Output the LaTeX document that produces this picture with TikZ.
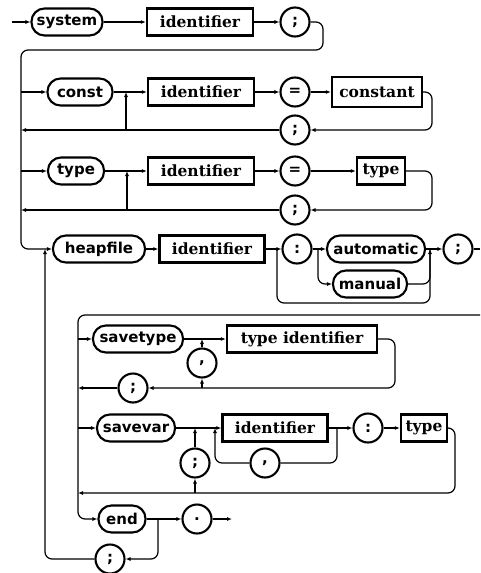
\documentclass[tikz,border=0pt]{standalone}
\usepackage{fontspec}
\usetikzlibrary{arrows.meta}
\newfontfamily\kwsans{DejaVu Sans}
\newfontfamily\boxserif{DejaVu Serif}
\newcommand\kwfmt{\kwsans\bfseries\fontsize{15pt}{15pt}\selectfont}
\newcommand\boxfmt{\boxserif\bfseries\fontsize{15.5pt}{15.5pt}\selectfont}
\tikzset{
  kw/.style={draw, line width=2.1pt, rounded corners=13pt, minimum height=27pt, inner sep=0pt, font=\kwfmt},
  refbox/.style={draw, line width=2.3pt, minimum height=27pt, inner sep=0pt, font=\boxfmt},
  sym/.style={draw, circle, line width=2.1pt, minimum size=29pt, inner sep=0pt, font=\kwfmt},
  conn/.style={line width=1.2pt, rounded corners=7pt},
  arr/.style={conn, -{Latex[length=5pt,width=4pt]}},
}
\begin{document}
\begin{tikzpicture}[x=1pt,y=-1pt]
\useasboundingbox (0,0) rectangle (480,573);

% ---- system identifier ;
\node[kw, minimum width=71pt] (system) at (67,22) {system};
\node[refbox, minimum width=106pt] (id1) at (200,22) {identifier};
\node[sym] (semi1) at (295,22) {;};

% ---- const section
\node[kw, minimum width=65pt] (const) at (80,92) {const};
\node[refbox, minimum width=106pt] (id2) at (201,92) {identifier};
\node[sym] (eq1) at (295,92) {=};
\node[refbox, minimum width=90pt, minimum height=30pt] (constant) at (377,92) {constant};
\node[sym] (semi2) at (295,130) {;};

% ---- type section
\node[kw, minimum width=56pt] (type) at (76,171) {type};
\node[refbox, minimum width=106pt] (id3) at (201,171) {identifier};
\node[sym] (eq2) at (295,171) {=};
\node[refbox, minimum width=48pt] (typebox1) at (381,171) {type};
\node[sym] (semi3) at (295,210) {;};

% ---- heapfile section
\node[kw, minimum width=92pt] (heapfile) at (99,249) {heapfile};
\node[refbox, minimum width=105pt] (id4) at (212,249) {identifier};
\node[sym] (colon1) at (297,249) {:};
\node[kw, minimum width=98pt] (automatic) at (376,249) {automatic};
\node[kw, minimum width=74pt] (manual) at (370,284) {manual};
\node[sym] (semi4) at (458,249) {;};

% ---- savetype
\node[kw, minimum width=90pt] (savetype) at (138,339) {savetype};
\node[refbox, minimum width=150pt] (typeid) at (302,339) {type identifier};
\node[sym] (comma1) at (202,363) {,};
\node[sym] (semi5) at (133,388) {;};

% ---- savevar
\node[kw, minimum width=78pt] (savevar) at (136,428) {savevar};
\node[refbox, minimum width=105pt] (id5) at (275,428) {identifier};
\node[sym] (colon2) at (368,428) {:};
\node[refbox, minimum width=46pt] (typebox2) at (424,428) {type};
\node[sym] (semi6) at (195,463) {;};
\node[sym] (comma2) at (265,463) {,};

% ---- end
\node[kw, minimum width=47pt] (endkw) at (122,519) {end};
\node[sym] (dot) at (197,519) {.};
\node[sym] (semi7) at (110,559) {;};

% junction points
\coordinate (start) at (12,22);
\coordinate (topR) at (323,50);
\coordinate (L1) at (21,249);
\coordinate (L2) at (21,92);
\coordinate (L2r) at (21,130);
\coordinate (L3) at (21,171);
\coordinate (L3r) at (21,210);
\coordinate (j2) at (126,92);
\coordinate (j2r) at (126,130);
\coordinate (c2) at (432,130);
\coordinate (j3) at (127,171);
\coordinate (j3r) at (127,210);
\coordinate (c3) at (432,210);
\coordinate (j4) at (45,249);
\coordinate (j5) at (277,249);
\coordinate (j6) at (318,249);
\coordinate (j7) at (430,249);
\coordinate (b7) at (430,303);
\coordinate (exitR) at (480,249);
\coordinate (frameR) at (480,315);
\coordinate (fend) at (78,519);
\coordinate (f5) at (78,339);
\coordinate (f5r) at (78,388);
\coordinate (f6) at (78,428);
\coordinate (f6r) at (78,493);
\coordinate (j8) at (202,339);
\coordinate (j8r) at (202,388);
\coordinate (c5) at (395,388);
\coordinate (j9) at (195,428);
\coordinate (j9r) at (195,493);
\coordinate (j10) at (215,428);
\coordinate (j11) at (337,428);
\coordinate (c6) at (455,493);
\coordinate (jend) at (158,519);
\coordinate (exit) at (232,519);

% system line and the outer loop down to heapfile
\draw[arr] (start) -- (system);
\draw[arr] (system) -- (id1);
\draw[arr] (id1) -- (semi1);
\draw[arr] (semi1.east) -| (topR) -| (L1) -- (heapfile.west);

% const
\draw[arr] (L2) -- (const);
\draw[arr] (const) -- (id2);
\draw[arr] (id2) -- (eq1);
\draw[arr] (eq1) -- (constant);
\draw[arr] (constant.east) -| (c2) -- (semi2.east);
\draw[arr] (semi2.west) -- (L2r);
\draw[arr] (j2r) -- (j2);

% type
\draw[arr] (L3) -- (type);
\draw[arr] (type) -- (id3);
\draw[arr] (id3) -- (eq2);
\draw[arr] (eq2) -- (typebox1);
\draw[arr] (typebox1.east) -| (c3) -- (semi3.east);
\draw[arr] (semi3.west) -- (L3r);
\draw[arr] (j3r) -- (j3);

% heapfile
\draw[arr] (heapfile) -- (id4);
\draw[arr] (id4) -- (colon1);
\draw[arr] (colon1) -- (automatic);
\draw[arr] (j6) |- (manual.west);
\draw[conn] (j5) |- (b7) -- (j7);
\draw[arr] (manual.east) -| (j7);
\draw[arr] (automatic) -- (semi4);
\draw[conn] (semi4) -- (exitR);

% frame of the heapfile body
\draw[arr] (frameR) -| (fend) -- (endkw.west);

% savetype
\draw[arr] (f5) -- (savetype);
\draw[arr] (savetype) -- (typeid);
\draw[arr] (typeid.east) -| (c5) -- (semi5.east);
\draw[arr] (semi5.west) -- (f5r);
\draw[arr] (j8r) -- (comma1.south);
\draw[arr] (comma1.north) -- (j8);

% savevar
\draw[arr] (f6) -- (savevar);
\draw[arr] (savevar) -- (id5);
\draw[arr] (id5) -- (colon2);
\draw[arr] (colon2) -- (typebox2);
\draw[arr] (typebox2.east) -| (c6) -- (f6r);
\draw[arr] (j9r) -- (semi6.south);
\draw[arr] (semi6.north) -- (j9);
\draw[conn] (j11) |- (comma2.east);
\draw[arr] (comma2.west) -| (j10);

% end
\draw[arr] (endkw) -- (dot);
\draw[arr] (dot) -- (exit);
\draw[arr] (jend) |- (semi7.east);
\draw[arr] (semi7.west) -| (j4);
\end{tikzpicture}
\end{document}
